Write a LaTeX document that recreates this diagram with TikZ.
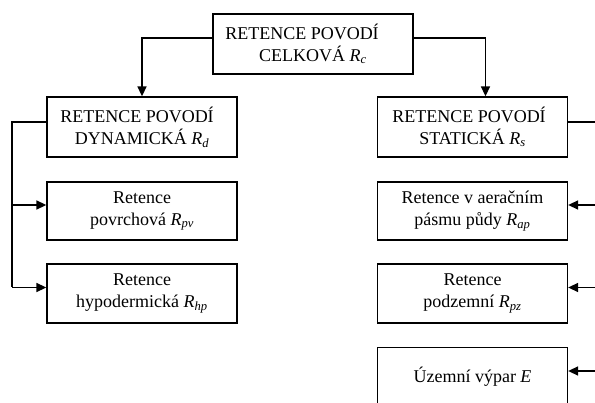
\documentclass[tikz,border=0pt]{standalone}
\usepackage{fontspec}
\setmainfont{Liberation Serif}
\usetikzlibrary{arrows.meta}
\newcommand{\retR}[1]{\textit{R}\textsubscript{\textit{#1}}}
\begin{document}
\begin{tikzpicture}[x=1pt,y=-1pt,
  box/.style={draw, line width=1.3pt, minimum width=190pt, minimum height=59pt,
    inner sep=0pt, align=center, font=\fontsize{18}{22}\selectfont},
  conn/.style={line width=1.5pt},
  arr/.style={conn, -{Triangle[length=10pt,width=9pt]}}]
\useasboundingbox (0,0) rectangle (595,403);
% boxes
\node[box, minimum width=200pt, minimum height=60pt] (top) at (313,44) {RETENCE POVODÍ\hspace*{22pt}\\CELKOVÁ \retR{c}};
\node[box, minimum height=60pt] (dyn) at (142,127) {RETENCE POVODÍ\hspace*{10pt}\\DYNAMICKÁ \retR{d}};
\node[box, minimum height=60pt] (stat) at (472.5,127) {RETENCE POVODÍ\hspace*{7pt}\\STATICKÁ \retR{s}};
\node[box, minimum height=58pt] (pv) at (142,211) {Retence\\povrchová \retR{pv}};
\node[box, minimum height=59pt] (hp) at (142,293.5) {Retence\\hypodermická \retR{hp}};
\node[box, minimum height=58pt] (ap) at (472.5,211) {Retence v aeračním\\pásmu půdy \retR{ap}};
\node[box, minimum height=59pt] (pz) at (472.5,293.5) {Retence\\podzemní \retR{pz}};
\node[box, minimum height=58pt] (E) at (472.5,376.5) {Územní výpar \textit{E}};
% top connectors
\draw[arr] ([yshift=6pt]top.west) -| (dyn.north);
\draw[arr] ([yshift=6pt]top.east) -| ([xshift=13pt]stat.north);
% left branch
\coordinate (lpv) at (12,205);
\coordinate (lhp) at (12,287.5);
\draw[conn] ([yshift=5pt]dyn.west) -| (lhp);
\draw[arr] (lpv) -- ([yshift=6pt]pv.west);
\draw[arr] (lhp) -- ([yshift=6pt]hp.west);
% right branch
\coordinate (rap) at (598,205);
\coordinate (rpz) at (598,287.5);
\coordinate (rE) at (598,371);
\coordinate (rend) at (598,410);
\draw[conn] ([yshift=5pt]stat.east) -| (rend);
\draw[arr] (rap) -- ([yshift=6pt]ap.east);
\draw[arr] (rpz) -- ([yshift=6pt]pz.east);
\draw[arr] (rE) -- ([yshift=5.5pt]E.east);
\end{tikzpicture}
\end{document}
